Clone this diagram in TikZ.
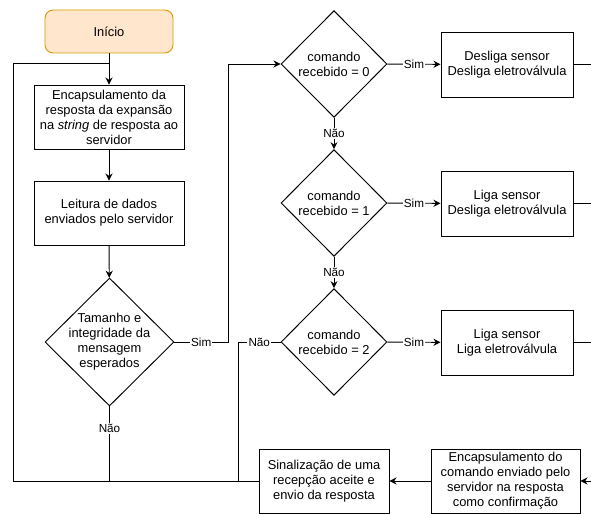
\documentclass[tikz,border=0pt]{standalone}
\usepackage{fontspec}
\setmainfont{Liberation Sans}
\usetikzlibrary{shapes.geometric,arrows.meta}

\definecolor{laranja}{HTML}{FFE6CC}
\definecolor{borda}{HTML}{D79B00}

\begin{document}
\begin{tikzpicture}[x=0.03cm,y=-0.03cm,line width=0.8pt]
\tikzstyle{every node}+=[font=\fontsize{11}{12.8}\selectfont,align=center]
\tikzstyle{bloco}=[draw,rectangle,inner sep=0pt,minimum width=4.5cm,minimum height=1.92cm]
\tikzstyle{decisao}=[draw,diamond,aspect=1,inner sep=-4pt,minimum width=3.18cm,minimum height=3.2cm]
\tikzstyle{rotulo}=[fill=white,inner sep=1pt,font=\fontsize{10}{12}\selectfont]
\tikzstyle{seta}=[-{Stealth[length=6pt,width=6pt]}]
\useasboundingbox (0,0) rectangle (591,514);

\node [draw=borda,fill=laranja,rounded corners=7pt,minimum width=3.84cm,minimum height=1.29cm] (inicio) at (109,31.5) {Início};
\node [bloco] (enc1) at (109,117) {Encapsulamento da\\resposta da expansão\\na \textit{string} de resposta ao\\servidor};
\node [bloco] (leitura) at (109,213) {Leitura de dados\\enviados pelo servidor};
\node [decisao,inner sep=-9pt,minimum width=3.87cm,minimum height=3.84cm] (tam) at (109.5,342) {Tamanho e\\integridade da\\mensagem\\esperados};
\node [decisao] (cmd0) at (334,64) {comando\\recebido = 0};
\node [decisao] (cmd1) at (334,203) {comando\\recebido = 1};
\node [decisao] (cmd2) at (334,342) {comando\\recebido = 2};
\node [bloco,minimum width=3.96cm,minimum height=1.95cm] (desl) at (507,64.5) {Desliga sensor\\Desliga eletroválvula};
\node [bloco,minimum width=3.96cm,minimum height=1.95cm] (ligadesl) at (507,203.5) {Liga sensor\\Desliga eletroválvula};
\node [bloco,minimum width=3.96cm,minimum height=1.95cm] (liga) at (507,342.5) {Liga sensor\\Liga eletroválvula};
\node [bloco,minimum width=3.9cm] (sinal) at (324,481) {Sinalização de uma\\recepção aceite e\\envio da resposta};
\node [bloco,minimum width=4.47cm] (enc2) at (505.5,481) {Encapsulamento do\\comando enviado pelo\\servidor na resposta\\como confirmação};

\coordinate (junta) at (109,63);
\coordinate (esq) at (13,0);
\coordinate (xsim) at (228,0);
\coordinate (xnao) at (238,0);
\coordinate (dir) at (591,0);

\draw [seta] (inicio) -- (enc1);
\draw [seta] (enc1) -- (leitura);
\draw [seta] (leitura) -- (tam);
\draw [seta] (tam.east) -- node [rotulo] {Sim} (tam.east -| xsim) |- (cmd0.west);
\draw (tam.south) -- node [rotulo,pos=0.3] {Não} (tam.south |- sinal.west);
\draw (sinal.west) -| (esq |- junta) -- (junta);
\draw [seta] (cmd0) -- node [rotulo] {Sim} (desl);
\draw [seta] (cmd1) -- node [rotulo] {Sim} (ligadesl);
\draw [seta] (cmd2) -- node [rotulo] {Sim} (liga);
\draw [seta] (cmd0) -- node [rotulo] {Não} (cmd1);
\draw [seta] (cmd1) -- node [rotulo] {Não} (cmd2);
\draw (cmd2.west) -| node [rotulo,pos=0.25] {Não} (xnao |- sinal.west);
\draw (desl.east) -- (desl.east -| dir);
\draw (ligadesl.east) -- (ligadesl.east -| dir);
\draw (liga.east) -- (liga.east -| dir);
\draw [seta] (enc2.east -| dir) -- (enc2);
\draw [seta] (enc2) -- (sinal);

\end{tikzpicture}
\end{document}
